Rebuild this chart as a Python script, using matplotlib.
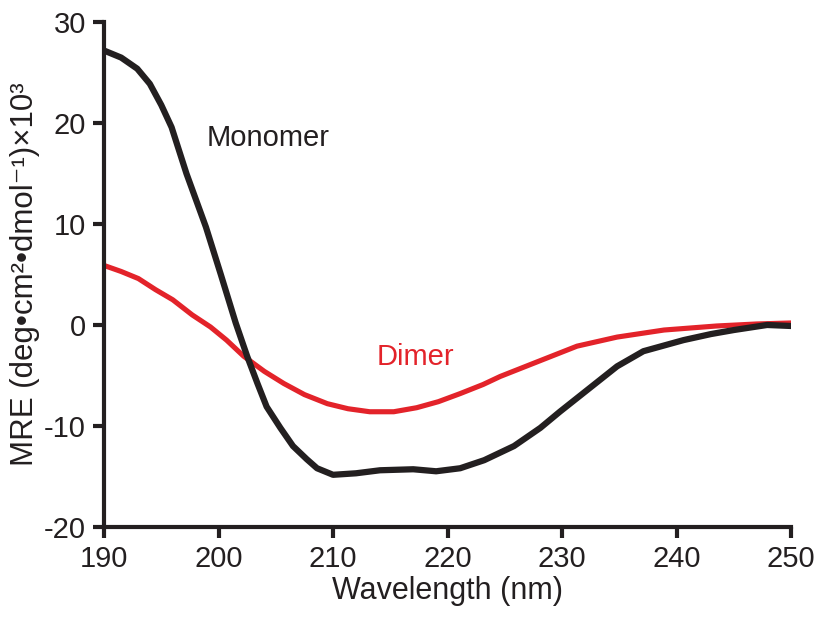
import matplotlib
matplotlib.use("Agg")
import matplotlib.pyplot as plt

plt.rcParams['font.family'] = ['Liberation Sans', 'DejaVu Sans']
plt.rcParams['axes.unicode_minus'] = False

# Monomer CD spectrum
mono_wl = [190.0, 191.5, 192.9, 194.0, 195.0, 195.9, 197.2, 198.9, 200.2, 201.5,
           202.5, 203.4, 204.2, 205.4, 206.5, 207.7, 208.6, 210.0, 212.0, 214.1,
           217.0, 219.0, 221.1, 223.2, 225.8, 228.1, 229.8, 231.8, 234.8, 237.1,
           240.6, 243.0, 245.0, 247.9, 250.0]
mono_mre = [27.2, 26.5, 25.4, 23.9, 21.8, 19.6, 15.0, 9.7, 5.0, 0.2,
            -3.1, -5.8, -8.1, -10.2, -12.0, -13.3, -14.2, -14.85, -14.7, -14.4,
            -14.3, -14.5, -14.2, -13.4, -12.0, -10.2, -8.6, -6.8, -4.1, -2.6,
            -1.5, -0.9, -0.5, 0.0, -0.1]

# Dimer CD spectrum
dim_wl = [190.0, 191.5, 193.0, 194.5, 196.0, 197.7, 199.3, 200.7, 202.2, 204.0,
          205.7, 207.5, 209.5, 211.3, 213.2, 215.3, 217.3, 219.2, 221.1, 223.1,
          224.6, 227.5, 231.3, 234.8, 238.9, 243.5, 247.0, 250.0]
dim_mre = [5.9, 5.3, 4.6, 3.5, 2.5, 1.0, -0.2, -1.5, -3.1, -4.6,
           -5.8, -6.9, -7.8, -8.3, -8.6, -8.6, -8.2, -7.6, -6.8, -5.9,
           -5.1, -3.8, -2.1, -1.2, -0.5, -0.1, 0.1, 0.2]

xticks = [190, 200, 210, 220, 230, 240, 250]
yticks = [-20, -10, 0, 10, 20, 30]

black = '#231f20'
red = '#e3232a'

fig = plt.figure(figsize=(8.19, 6.19), dpi=100)
ax = fig.add_axes([0.127, 0.149, 0.839, 0.815])

ax.plot(mono_wl, mono_mre, color=black, lw=4.5, solid_capstyle='butt', zorder=3)
ax.plot(dim_wl, dim_mre, color=red, lw=3.7, solid_capstyle='butt', zorder=2)

ax.text(199.0, 18.5, 'Monomer', color=black, fontsize=21, va='center', ha='left')
ax.text(213.8, -3.2, 'Dimer', color=red, fontsize=21, va='center', ha='left')

ax.set_xlim(190, 250)
ax.set_ylim(-20, 30)
ax.set_xticks(xticks)
ax.set_yticks(yticks)

for s in ['top', 'right']:
    ax.spines[s].set_visible(False)
for s in ['left', 'bottom']:
    ax.spines[s].set_linewidth(3)
    ax.spines[s].set_color(black)

ax.tick_params(direction='out', length=8, width=3, colors=black, labelsize=21, pad=5)

ax.set_xlabel('Wavelength (nm)', fontsize=22, color=black, labelpad=2)
ax.set_ylabel('MRE (deg•cm²•dmol⁻¹)×10³', fontsize=22.5, color=black, labelpad=3)

fig.savefig('out.png', dpi=100)
